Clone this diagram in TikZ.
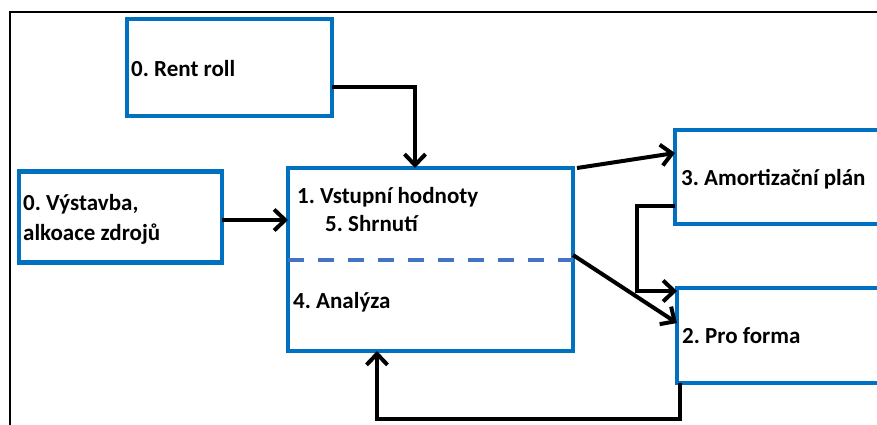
\documentclass[tikz,border=0pt]{standalone}
\usepackage{fontspec}
\setmainfont{Carlito}
\usetikzlibrary{arrows.meta}
\definecolor{boxblue}{HTML}{0070C0}
\definecolor{dashblue}{HTML}{4472C4}
\tikzset{
  blockbox/.style={draw=boxblue, line width=4.2pt, rectangle, fill=white, inner sep=0pt, outer sep=0pt},
  lbl/.style={anchor=base west, inner sep=0pt, font=\fontsize{23}{30}\selectfont\bfseries, align=left},
  arr/.style={draw=black, line width=4pt, -{Straight Barb[length=11pt, width=21pt, line width=4pt]}},
  dashline/.style={draw=dashblue, line width=4pt, dash pattern=on 16pt off 14pt},
  frame/.style={draw=black, line width=2pt}
}
\begin{document}
\frenchspacing
\begin{tikzpicture}[x=1pt,y=-1pt]
\useasboundingbox (0,0) rectangle (877,424);
\fill[white] (0,0) rectangle (877,424);
\draw[frame] (10,12) rectangle (900,450);
% boxes
\node[blockbox, minimum width=205pt, minimum height=97pt] (rent) at (229.5,67.5) {};
\node[blockbox, minimum width=203pt, minimum height=91pt] (vyst) at (120.5,217) {};
\node[blockbox, minimum width=285pt, minimum height=183pt] (main) at (430.5,259.5) {};
\node[blockbox, minimum width=240pt, minimum height=94pt] (amort) at (795,177) {};
\node[blockbox, minimum width=240pt, minimum height=95pt] (pro) at (797,335.5) {};
% dashed divider
\draw[dashline] (main.west) -- (main.east);
% labels
\node[lbl] (trent) at (131,76) {0. Rent roll};
\node[lbl] (tvyst) at (23,240) {0. Výstavba,\\alkoace zdrojů};
\node[lbl] (tvst) at (297,203) {1. Vstupní hodnoty};
\node[lbl] (tshr) at (325,231) {5. Shrnutí};
\node[lbl] (tana) at (293,308) {4. Analýza};
\node[lbl] (tamo) at (681,185) {3. Amortizační plán};
\node[lbl] (tpro) at (682,343) {2. Pro forma};
% connectors
\draw[arr] ([yshift=-19.5pt]rent.east) -| ([xshift=-15.5pt]main.north);
\draw[arr] ([yshift=-3pt]vyst.east) -- ([yshift=-3pt]vyst.east -| main.west);
\draw[arr] ([xshift=4pt]main.north east) -- ([yshift=24pt]amort.west);
\draw[arr] ([yshift=4.5pt]main.east) -- ([yshift=12.5pt]pro.west);
\draw[arr] ([yshift=-29pt]amort.west) -- ++(-38,0) |- ([yshift=44.5pt]pro.west);
\draw[arr] ([xshift=3pt]pro.south west) -- ++(0,36) -| ([xshift=-53.5pt]main.south);
\end{tikzpicture}
\end{document}
